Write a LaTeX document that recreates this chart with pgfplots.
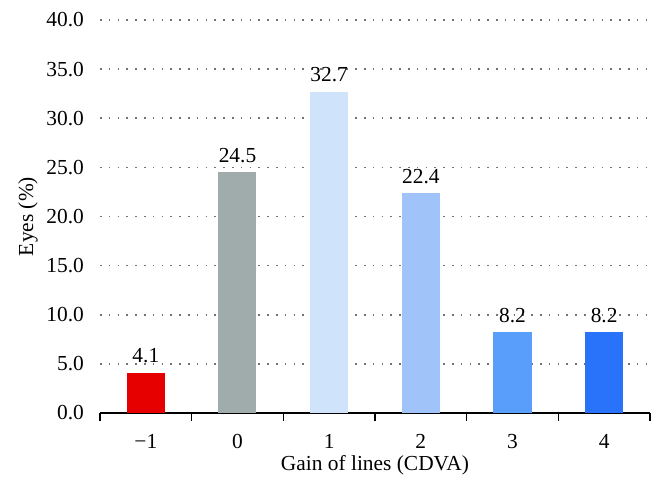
\documentclass[border=0pt]{standalone}
\usepackage{pgfplots}
\pgfplotsset{compat=1.18}
\usepackage{fontspec}
\setmainfont{Liberation Serif}
\definecolor{cRed}{RGB}{230,0,0}
\definecolor{cGray}{RGB}{160,172,172}
\definecolor{cBlue1}{RGB}{207,228,250}
\definecolor{cBlue2}{RGB}{160,196,250}
\definecolor{cBlue3}{RGB}{88,158,250}
\definecolor{cBlue4}{RGB}{40,115,250}
\begin{document}
\fontsize{10.7}{12.5}\selectfont
\begin{tikzpicture}
\begin{axis}[
  scale only axis,
  width=275pt, height=196.5pt,
  ybar, bar width=19pt, bar shift=0pt,
  xmin=-1.5, xmax=4.5, ymin=0, ymax=40,
  xtick={-1,0,1,2,3,4},
  xticklabels={−1,0,1,2,3,4},
  minor xtick={-1.5,-0.5,...,4.5},
  major x tick style={draw=none},
  minor x tick style={black, line width=0.6pt},
  minor tick length=4pt,
  tick align=outside,
  ytick={0,5,...,40},
  major y tick style={draw=none},
  yticklabel style={/pgf/number format/fixed, /pgf/number format/fixed zerofill, /pgf/number format/precision=1},
  /pgf/number format/assume math mode=true,
  axis x line*=bottom, axis y line*=left,
  x axis line style={black, line width=0.6pt},
  y axis line style={draw=none},
  ymajorgrids,
  grid style={black!55, line width=0.8pt, dash pattern=on 0.8pt off 3.6pt},
  xticklabel style={yshift=-2.5pt},
  xlabel={Gain of lines (CDVA)},
  ylabel={Eyes (\%)},
  xlabel style={at={(axis description cs:0.5,-0.132)}, anchor=center},
  ylabel style={at={(axis description cs:-0.131,0.5)}, anchor=center},
  nodes near coords,
  nodes near coords style={/pgf/number format/fixed, /pgf/number format/fixed zerofill, /pgf/number format/precision=1, yshift=1pt},
  clip=false,
]
\addplot[fill=cRed, draw=none] coordinates {(-1,4.1)};
\addplot[fill=cGray, draw=none] coordinates {(0,24.5)};
\addplot[fill=cBlue1, draw=none] coordinates {(1,32.7)};
\addplot[fill=cBlue2, draw=none] coordinates {(2,22.4)};
\addplot[fill=cBlue3, draw=none] coordinates {(3,8.2)};
\addplot[fill=cBlue4, draw=none] coordinates {(4,8.2)};
\end{axis}
\path ([xshift=-50pt,yshift=-41.5pt]current axis.south west) rectangle ([xshift=7pt,yshift=10pt]current axis.north east);
\end{tikzpicture}
\end{document}
